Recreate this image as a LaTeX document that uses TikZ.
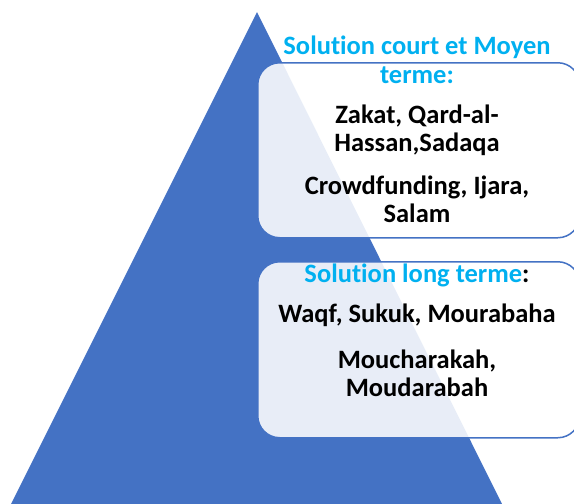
\documentclass[tikz,border=0pt]{standalone}
\usepackage{fontspec}
\setmainfont{Carlito}[Ligatures=NoCommon]
\usetikzlibrary{positioning}
\definecolor{pyrblue}{HTML}{4472C4}
\definecolor{titlecyan}{HTML}{00B0F0}

\begin{document}
\begin{tikzpicture}[x=1pt,y=-1pt,
	etage/.style={draw=pyrblue, line width=1.5pt, rounded corners=22pt,
		fill=white, fill opacity=0.88, anchor=north west, inner sep=0pt},
	titre/.style={text=titlecyan, align=center,
		font=\bfseries\fontsize{26.5}{29}\selectfont},
	liste/.style={align=center, font=\bfseries\fontsize{26.5}{28}\selectfont}]
	\useasboundingbox (0,0) rectangle (574,504);
	% pyramid
	\fill[pyrblue] (257,12) -- (502,504) -- (11,504) -- cycle;
	% upper level
	\node[etage, minimum width=322pt, minimum height=175pt] (court) at (257,62) {};
	\node[titre] (titrecourt) at (417,60) {Solution court et Moyen\\terme:};
	\node[liste] (zakat) at (417,130) {Zakat, Qard-al-\\Hassan,Sadaqa};
	\node[liste] (crowd) at (417,199) {Crowdfunding, Ijara,\\Salam};
	% lower level
	\node[etage, minimum width=322pt, minimum height=176pt] (long) at (257,261) {};
	\node[titre, text=black] (titrelong) at (417,275) {\textcolor{titlecyan}{Solution long terme}:};
	\node[liste] (waqf) at (417,315) {Waqf, Sukuk, Mourabaha};
	\node[liste] (mouch) at (417,373) {Moucharakah,\\Moudarabah};
\end{tikzpicture}
\end{document}
